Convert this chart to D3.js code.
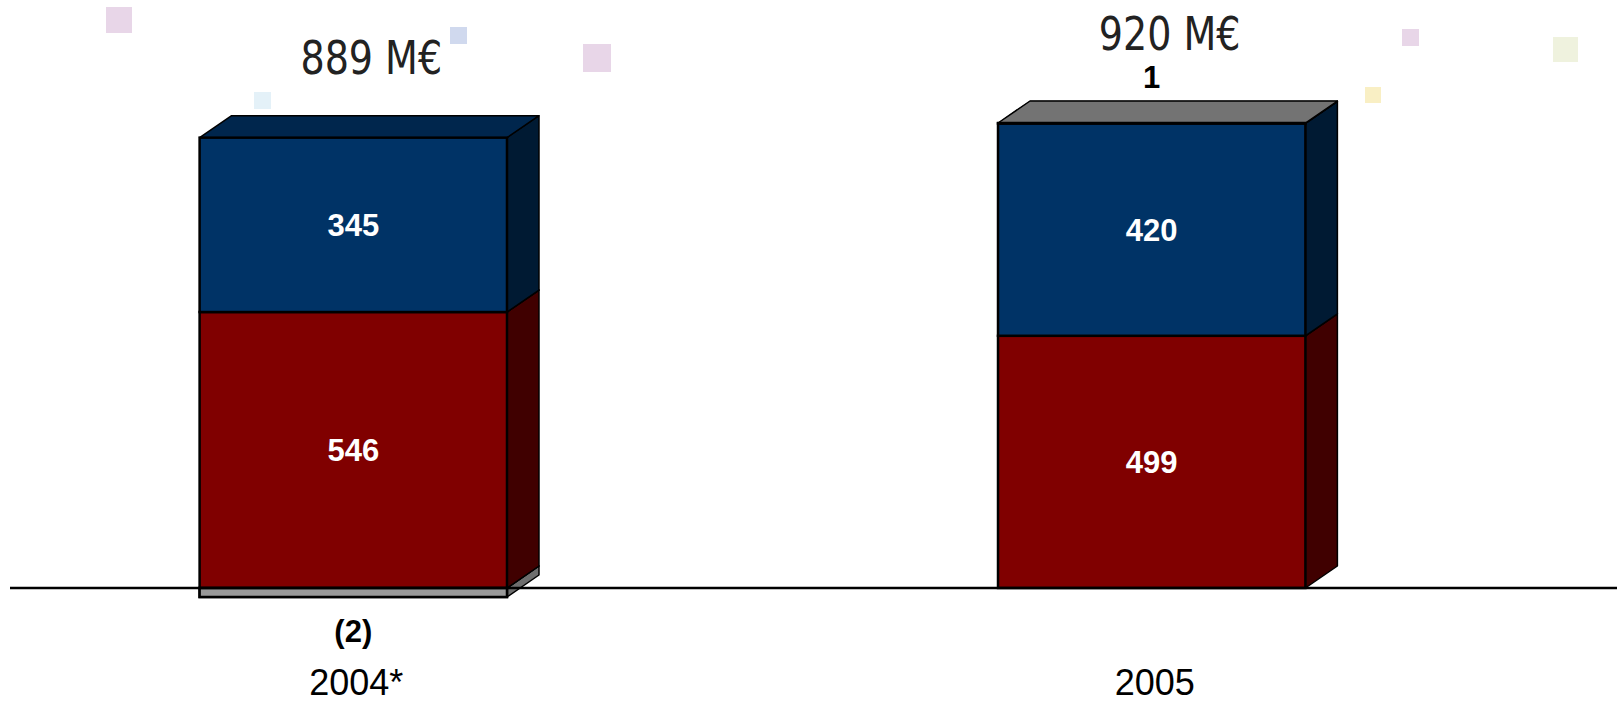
<!DOCTYPE html>
<html>
<head>
<meta charset="utf-8">
<script src="https://cdn.jsdelivr.net/npm/d3@7"></script>
<style>
  html, body { margin: 0; padding: 0; background: #fff; }
  svg { display: block; }
</style>
</head>
<body>
<figure id="chart" style="margin:0"></figure>
<script>
// chart data
const years = ['2004*', '2005'];
const redValues = [546, 499];
const blueValues = [345, 420];
const grayValues = [-2, 1];

// pale squares from the slide background
const decoSquares = [
  { x: 106, y: 7, s: 26, c: '#e8d6e8' },
  { x: 450, y: 27, s: 17, c: '#d0d9ee' },
  { x: 583, y: 44, s: 28, c: '#e8d6e8' },
  { x: 254, y: 92, s: 17, c: '#e4f1f8' },
  { x: 1402, y: 29, s: 17, c: '#e8d6e8' },
  { x: 1365, y: 87, s: 16, c: '#f9efc4' },
  { x: 1553, y: 37, s: 25, c: '#eff2de' }
];

const width = 1617;
const height = 704;
const baseY = 588;
const depthX = 32;
const depthY = -22;

const series = [
  { key: 'gray', values: grayValues, front: '#999999', top: '#737373', side: '#6e6e6e', text: '#000' },
  { key: 'red', values: redValues, front: '#800000', top: '#660000', side: '#400000', text: '#fff' },
  { key: 'blue', values: blueValues, front: '#003366', top: '#00264d', side: '#001a33', text: '#fff' }
];

const svg = d3.select('figure#chart')
  .append('svg')
  .attr('width', width)
  .attr('height', height);

svg.selectAll('rect.deco')
  .data(decoSquares)
  .enter()
  .append('rect')
  .attr('class', 'deco')
  .attr('x', d => d.x)
  .attr('y', d => d.y)
  .attr('width', d => d.s)
  .attr('height', d => d.s)
  .attr('fill', d => d.c);

const x = d3.scaleBand()
  .domain(years)
  .range([0, 1505])
  .paddingInner(0.615)
  .paddingOuter(0.25);

const y = d3.scaleLinear()
  .domain([0, 920])
  .range([baseY, 123]);

const fmt = v => v < 0 ? `(${Math.abs(v)})` : `${v}`;

// build stacked segments per year
const bars = years.map((year, i) => {
  const segs = [];
  let pos = 0;
  let neg = 0;
  // negatives go below the axis
  series.forEach(s => {
    const v = s.values[i];
    if (v < 0) {
      const y0 = y(neg);
      // tiny negative slab still shown with some thickness
      const y1 = Math.max(y(neg + v), y0 + 9);
      segs.push({ s, v, top: y0, bottom: y1 });
      neg += v;
    }
  });
  ['red', 'blue', 'gray'].forEach(k => {
    const s = series.find(d => d.key === k);
    const v = s.values[i];
    if (v > 0) {
      segs.push({ s, v, top: y(pos + v), bottom: y(pos) });
      pos += v;
    }
  });
  const total = d3.sum(series, s => s.values[i]);
  return { year, i, segs, pos, neg, total };
});

const g = svg.append('g');

bars.forEach(b => {
  const x0 = x(b.year);
  const w = x.bandwidth();
  const bg = g.append('g');
  b.segs.forEach(seg => {
    const { s } = seg;
    // side face
    bg.append('path')
      .attr('d', `M${x0 + w},${seg.bottom} L${x0 + w + depthX},${seg.bottom + depthY} L${x0 + w + depthX},${seg.top + depthY} L${x0 + w},${seg.top} Z`)
      .attr('fill', s.side)
      .attr('stroke', '#000')
      .attr('stroke-width', 1.5)
      .attr('stroke-linejoin', 'round');
    // top face
    bg.append('path')
      .attr('d', `M${x0},${seg.top} L${x0 + depthX},${seg.top + depthY} L${x0 + w + depthX},${seg.top + depthY} L${x0 + w},${seg.top} Z`)
      .attr('fill', s.top)
      .attr('stroke', '#000')
      .attr('stroke-width', 1.5)
      .attr('stroke-linejoin', 'round');
    // front face
    bg.append('rect')
      .attr('x', x0)
      .attr('y', seg.top)
      .attr('width', w)
      .attr('height', Math.max(seg.bottom - seg.top, 0.5))
      .attr('fill', s.front)
      .attr('stroke', '#000')
      .attr('stroke-width', 2.5);
  });
});

// axis line
svg.append('line')
  .attr('x1', 10)
  .attr('x2', width)
  .attr('y1', baseY)
  .attr('y2', baseY)
  .attr('stroke', '#000')
  .attr('stroke-width', 2.5);

// redraw the negative slabs in front of the axis line
bars.forEach(b => {
  const x0 = x(b.year);
  const w = x.bandwidth();
  b.segs.filter(seg => seg.v < 0).forEach(seg => {
    g.append('rect')
      .attr('x', x0)
      .attr('y', seg.top)
      .attr('width', w)
      .attr('height', seg.bottom - seg.top)
      .attr('fill', seg.s.front)
      .attr('stroke', '#000')
      .attr('stroke-width', 2.5);
  });
});

const labels = svg.append('g')
  .style('font-family', 'Liberation Sans, Arial, sans-serif');

bars.forEach(b => {
  const cx = x(b.year) + x.bandwidth() / 2;
  let totalY = y(b.pos) + depthY - 42;
  b.segs.forEach(seg => {
    const big = seg.bottom - seg.top > 40;
    let ty;
    let fill = seg.s.text;
    if (big) {
      ty = (seg.top + seg.bottom) / 2 + 11;
    } else if (seg.v < 0) {
      ty = seg.bottom + 45;
      fill = '#000';
    } else {
      ty = seg.top + depthY - 13;
      fill = '#000';
      totalY = ty - 38;
    }
    labels.append('text')
      .attr('x', cx)
      .attr('y', ty)
      .attr('text-anchor', 'middle')
      .attr('fill', fill)
      .style('font-size', '31px')
      .style('font-weight', 'bold')
      .text(fmt(seg.v));
  });

  // total, slightly condensed like the original narrow face
  labels.append('text')
    .attr('transform', `translate(${cx + depthX / 2 + 2},${totalY}) scale(0.9,1)`)
    .attr('text-anchor', 'middle')
    .attr('fill', '#222')
    .style('font-family', '"Liberation Sans Narrow", "DejaVu Sans Condensed", sans-serif')
    .style('font-size', '47px')
    .text(`${b.total} M€`);

  labels.append('text')
    .attr('x', cx + 3)
    .attr('y', 695)
    .attr('text-anchor', 'middle')
    .attr('fill', '#000')
    .style('font-size', '36px')
    .text(b.year);
});
</script>
</body>
</html>
